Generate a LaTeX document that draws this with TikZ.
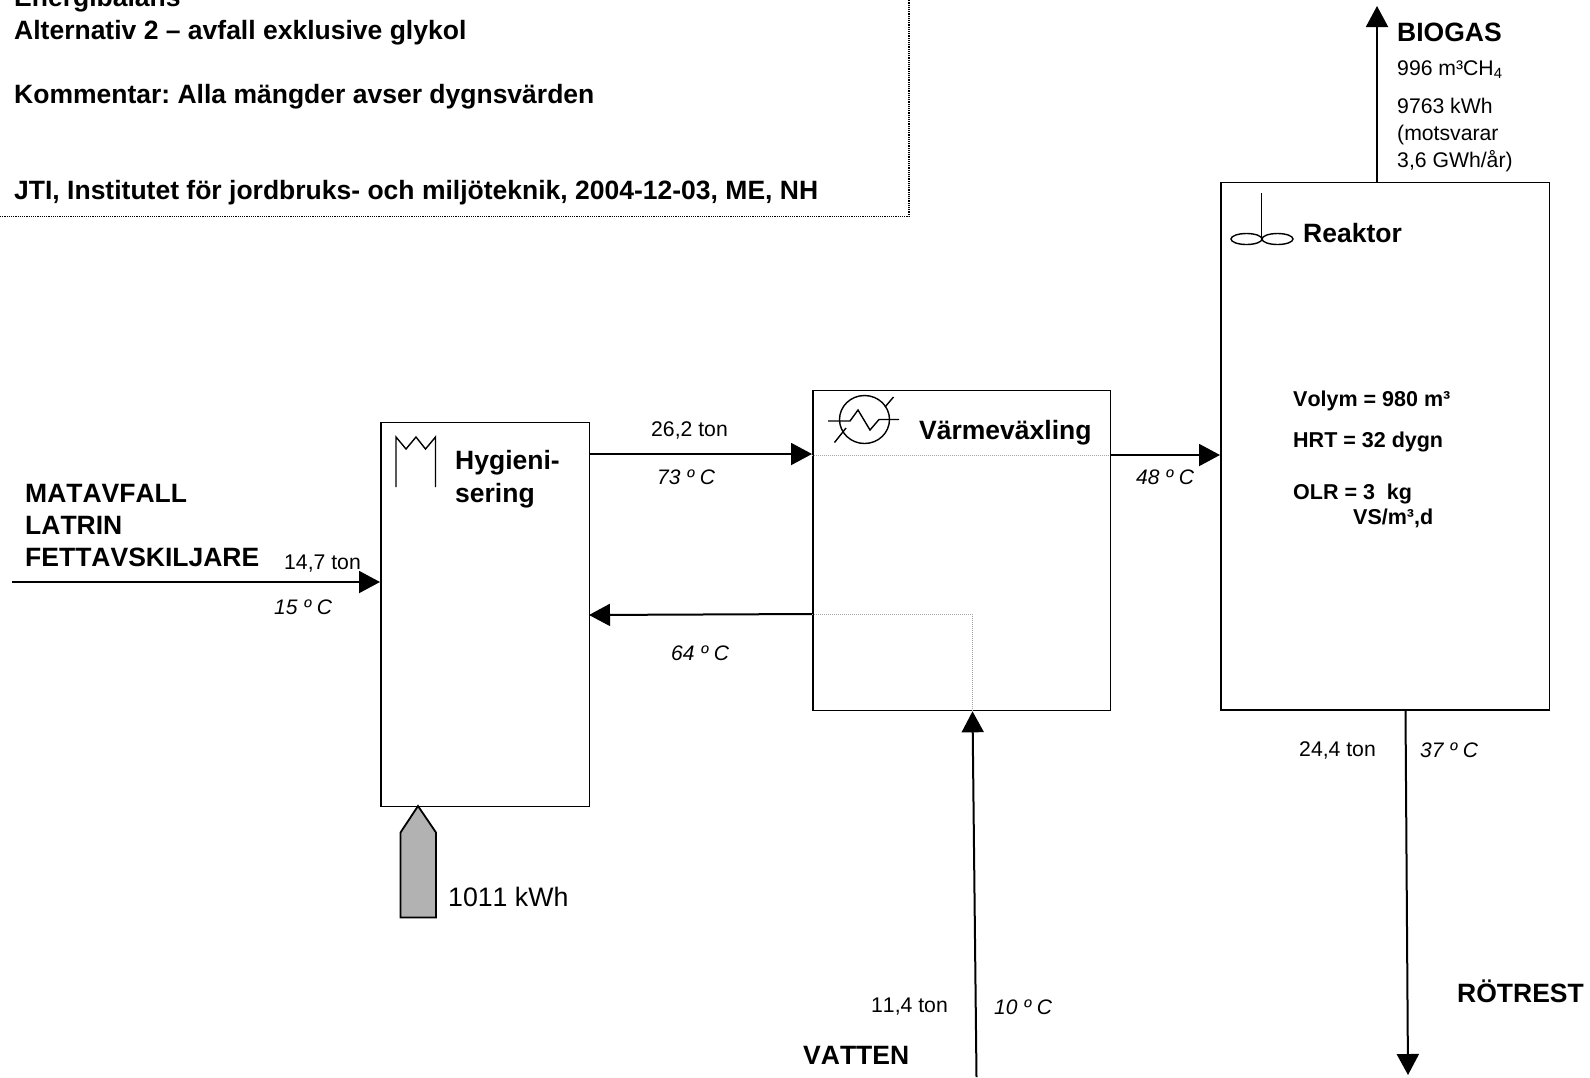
\documentclass[tikz,border=0pt]{standalone}
\usepackage{fontspec}
\setmainfont[Kerning=Off]{Liberation Sans}
\usetikzlibrary{arrows.meta}
\frenchspacing

\tikzset{
  box/.style={draw, line width=1.8pt, inner sep=0pt, anchor=north west},
  flow/.style={line width=2pt, -{Triangle[length=21pt,width=22pt]}},
  pipe/.style={line width=1pt, densely dotted, black!35},
  icon/.style={line width=1.4pt},
  base/.style={inner sep=0pt, anchor=base west, align=left},
  big/.style={base, font=\fontsize{26.5}{32}\selectfont\bfseries},
  small/.style={base, font=\fontsize{21.2}{25}\selectfont},
  smallb/.style={base, font=\fontsize{21.5}{25}\selectfont\bfseries},
  temp/.style={base, font=\fontsize{21}{25}\selectfont\itshape},
}

\begin{document}
\begin{tikzpicture}[x=1pt, y=-1pt]
  \useasboundingbox (0,0) rectangle (1590,1077);

  % --- ruta med rubrik ---
  \coordinate (framebl) at (0,216.5);
  \coordinate (framebr) at (909,216.5);
  \coordinate (frametr) at (909,0);
  \draw[line width=1.2pt, densely dotted] (framebl) -- (framebr) -- (frametr);
  \node[big] (title1) at (14,6) {Energibalans};
  \node[big] (title2) at (14,39) {Alternativ 2 – avfall exklusive glykol};
  \node[big] (title3) at (14,103) {Kommentar: Alla mängder avser dygnsvärden};
  \node[big] (title4) at (14,199) {JTI, Institutet för jordbruks- och miljöteknik, 2004-12-03, ME, NH};

  % --- boxar ---
  \node[box, minimum width=208.5pt, minimum height=384pt] (hyg) at (380,421.5) {};
  \node[box, minimum width=297.5pt, minimum height=320pt] (vvx) at (812,389.5) {};
  \node[box, minimum width=328.5pt, minimum height=527.5pt] (rea) at (1220,181.5) {};

  % --- Hygienisering ---
  \node[big] (hyg1) at (455,469) {Hygieni-};
  \node[big] (hyg2) at (455,502) {sering};
  \draw[icon] (396,487) -- (396,437) -- (406,449) -- (416,437) -- (425.5,449) -- (435.5,437) -- (435.5,487);

  % --- Värmeväxling ---
  \node[big] (vvxtext) at (919,439) {Värmeväxling};
  \draw[icon] (864.5,419.5) ellipse (25pt and 24pt);
  \draw[icon] (828,421) -- (850,421) -- (858,410) -- (870,430) -- (879,419.5) -- (899,419.5);
  \draw[icon] (834.5,442.5) -- (846,428);
  \draw[icon] (893.5,397) -- (885,407);

  % --- Reaktor ---
  \node[big] (reatext) at (1303,242) {Reaktor};
  \draw[icon] (1261.5,193) -- (1261.5,239);
  \draw[icon] (1246.5,239) ellipse (15.5pt and 5.5pt);
  \draw[icon] (1277.5,239) ellipse (15.5pt and 5.5pt);
  \node[smallb] (volym) at (1293,406) {Volym = 980 m³};
  \node[smallb] (hrt) at (1293,447) {HRT = 32 dygn};
  \node[smallb] (olr1) at (1293,499) {OLR = 3\ \ kg};
  \node[smallb] (olr2) at (1353,524) {VS/m³,d};

  % --- hygienisering -> värmeväxling -> reaktor ---
  \coordinate (vvxin) at (812,454);
  \coordinate (vvxout) at (1110,455);
  \coordinate (vvxback) at (812,614);
  \coordinate (vvxmid) at (972.5,614);
  \draw[flow] (hyg.east |- vvxin) -- (vvxin);
  \draw[flow] (vvxout) -- (rea.west |- vvxout);
  \draw[pipe] (vvxin |- vvxout) -- (vvxout);
  \draw[flow] (vvxback) -- (589,615);
  \draw[pipe] (vvxback) -- (vvxmid) -- (vvxmid |- vvx.south);
  \node[small] (ton262) at (651,436) {26,2 ton};
  \node[temp] (t73) at (657,484) {73 º C};
  \node[temp] (t64) at (671,660) {64 º C};
  \node[temp] (t48) at (1136,484) {48 º C};

  % --- matavfall ---
  \coordinate (matin) at (12,582);
  \draw[flow] (matin) -- (hyg.west |- matin);
  \node[big] (mat1) at (25,502) {MATAVFALL};
  \node[big] (mat2) at (25,534) {LATRIN};
  \node[big] (mat3) at (25,566) {FETTAVSKILJARE};
  \node[small] (ton147) at (284,569) {14,7 ton};
  \node[temp] (t15) at (274,614) {15 º C};

  % --- värme ---
  \draw[line width=1.8pt, fill=black!30] (418,806) -- (436,832.5) -- (436,917.5) -- (400.5,917.5) -- (400.5,832.5) -- cycle;
  \node[base, font=\fontsize{26.7}{32}\selectfont] (kwh) at (448,906) {1011 kWh};

  % --- vatten ---
  \coordinate (vatin) at (976.5,1077);
  \draw[flow] (vatin) -- (vvxmid |- vvx.south);
  \node[small] (ton114) at (871,1012) {11,4 ton};
  \node[temp] (t10) at (994,1014) {10 º C};
  \node[big] (vatten) at (803,1064) {VATTEN};

  % --- biogas ---
  \coordinate (gasut) at (1377,6);
  \draw[flow] (rea.north -| gasut) -- (gasut);
  \node[big] (gas) at (1397,41) {BIOGAS};
  \node[small] (gas1) at (1397,75) {996 m³CH\textsubscript{4}};
  \node[small] (gas2) at (1397,113) {9763 kWh};
  \node[small] (gas3) at (1397,140.5) {(motsvarar};
  \node[small] (gas4) at (1397,167) {3,6 GWh/år)};

  % --- rötrest ---
  \coordinate (rotut) at (1408,1075);
  \draw[flow] (rea.south -| 1405.5,0) -- (rotut);
  \node[small] (ton244) at (1299,756) {24,4 ton};
  \node[temp] (t37) at (1420,757) {37 º C};
  \node[big] (rot) at (1457,1002) {RÖTREST};

\end{tikzpicture}
\end{document}
